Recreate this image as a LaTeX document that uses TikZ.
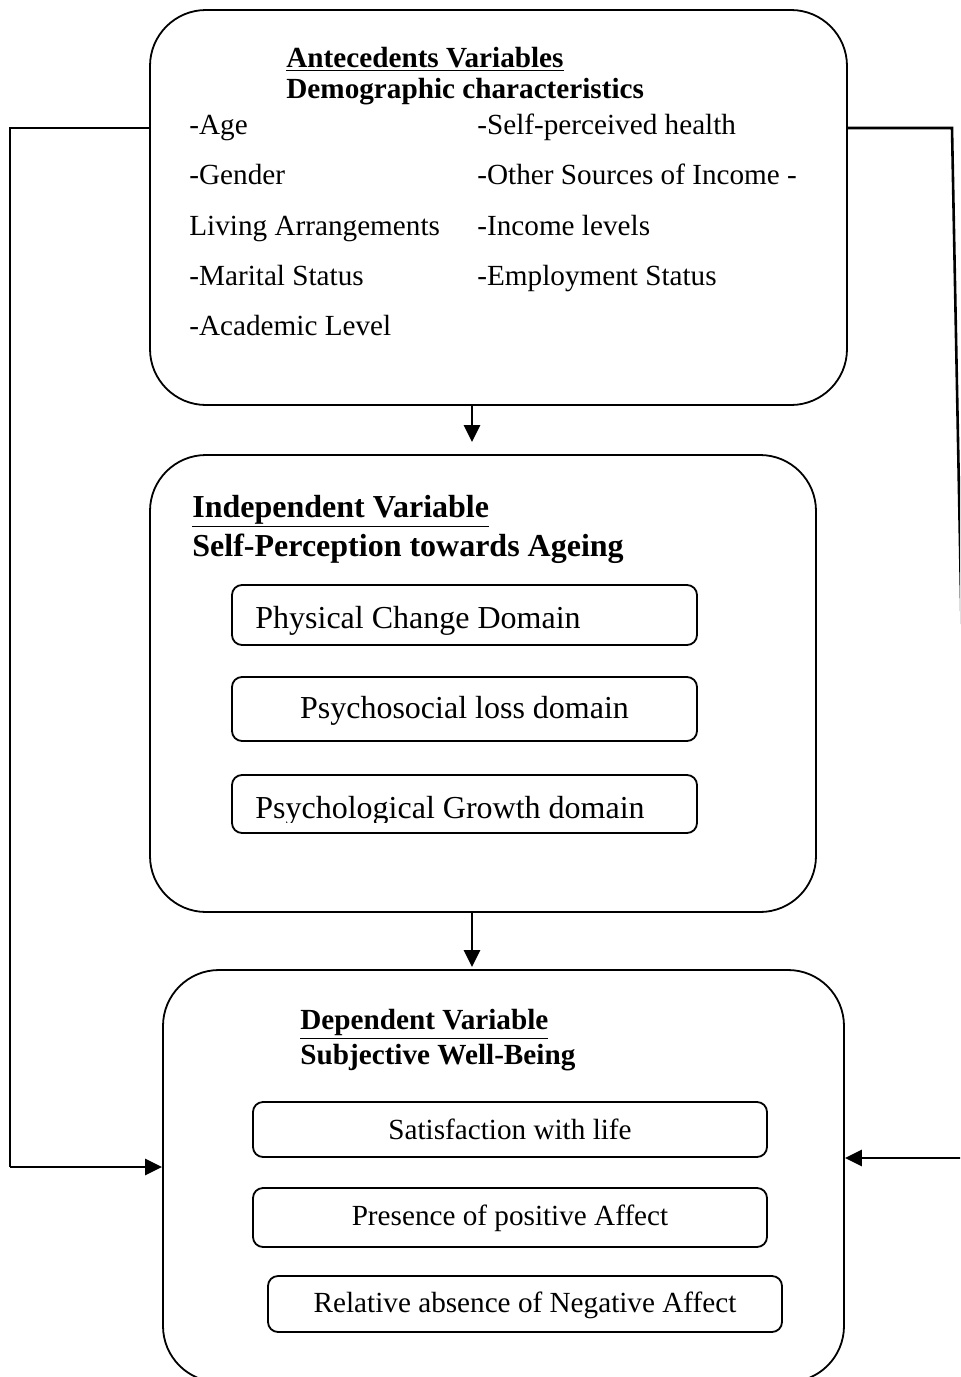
\documentclass[tikz,border=0pt]{standalone}
\usepackage{fontspec}
\setmainfont{Liberation Serif}
\usetikzlibrary{positioning}
\usetikzlibrary{arrows.meta}

\begin{document}
\begin{tikzpicture}[x=0.5pt, y=-0.5pt,
  bigbox/.style={draw, line width=0.9pt, rounded corners=28pt, inner sep=0pt},
  smallbox/.style={draw, line width=0.9pt, rounded corners=5pt, inner sep=0pt, font=\fontsize{14.6}{17}\selectfont},
  itemtxt/.style={anchor=base west, inner sep=0pt, font=\fontsize{14.6}{17}\selectfont},
  headtxt/.style={anchor=base west, inner sep=0pt, font=\fontsize{14.6}{17}\selectfont\bfseries},
  bighead/.style={anchor=base west, inner sep=0pt, font=\fontsize{16}{19}\selectfont\bfseries},
  conn/.style={line width=1.3pt},
  arr/.style={line width=1.3pt, -{Triangle[length=8.5pt, width=8pt]}}]

\useasboundingbox (0,0) rectangle (960,1377);
\clip (0,0) rectangle (960,1377);

 \begin{scope}
{
% antecedents
\node[bigbox, minimum width=348.5pt, minimum height=197.5pt] (ante) at (498.5,207.5) {};
\node[headtxt] (antehead) at (286,67) {\underline{Antecedents Variables}};
\node[headtxt] (antesub) at (286,98) {Demographic characteristics};

\node[itemtxt] (age) at (189,134) {-Age};
\node[itemtxt] (gender) at (189,184) {-Gender};
\node[itemtxt] (living) at (189,235) {Living Arrangements};
\node[itemtxt] (marital) at (189,285) {-Marital Status};
\node[itemtxt] (academic) at (189,335) {-Academic Level};

\node[itemtxt] (health) at (477,134) {-Self-perceived health};
\node[itemtxt] (sources) at (477,184) {-Other Sources of Income -};
\node[itemtxt] (income) at (477,235) {-Income levels};
\node[itemtxt] (employ) at (477,285) {-Employment Status};

% independent
\node[bigbox, minimum width=333pt, minimum height=228.5pt] (indep) at (483,683.5) {};
\node[bighead] (indephead) at (192,517) {\underline{Independent Variable}};
\node[bighead] (indepsub) at (192,556) {Self-Perception towards Ageing};

\node[smallbox, minimum width=232.5pt, minimum height=30pt] (physical) at (464.5,615) {};
\node[itemtxt, font=\fontsize{16}{19}\selectfont] (physicaltxt) at (255,628) {Physical Change Domain};
\node[smallbox, minimum width=232.5pt, minimum height=32pt, font=\fontsize{16}{19}\selectfont, text depth=2pt] (psyloss) at (464.5,709) {Psychosocial loss domain};
\node[smallbox, minimum width=232.5pt, minimum height=29pt] (growth) at (464.5,804) {};
\begin{scope}
\clip (232,775) rectangle (697,822);
\node[itemtxt, font=\fontsize{16}{19}\selectfont] (growthtxt) at (255,818) {Psychological Growth domain};
\end{scope}

% dependent
\node[bigbox, minimum width=340.5pt, minimum height=206pt] (dep) at (503.5,1176) {};
\node[headtxt] (dephead) at (300,1029) {\underline{Dependent Variable}};
\node[headtxt] (depsub) at (300,1064) {Subjective Well-Being};

\node[smallbox, minimum width=257pt, minimum height=27.5pt] (satis) at (510,1129.5) {Satisfaction with life};
\node[smallbox, minimum width=257pt, minimum height=29.5pt, text depth=2pt] (positive) at (510,1217.5) {Presence of positive Affect};
\node[smallbox, minimum width=257pt, minimum height=28pt, text depth=2pt] (negative) at (525,1304) {Relative absence of Negative Affect};

% connectors
\draw[arr, shorten >=6pt] (ante.south -| 472,0) -- (indep.north -| 472,0);
\draw[arr, shorten >=1pt] (indep.south -| 472,0) -- (dep.north -| 472,0);

\coordinate (leftout) at (10,128);
\coordinate (leftin) at (10,1167);
\draw[conn] (ante.west |- leftout) -- (leftout) -- (leftin);
\draw[arr] (leftin) -- (dep.west |- leftin);

\coordinate (rightout) at (952,128);
\coordinate (rightlow) at (964,752);
\coordinate (rightin) at (965,1158);
\draw[conn] (ante.east |- rightout) -- (rightout) -- (rightlow);
\draw[arr] (rightin) -- (dep.east |- rightin);
}
\end{scope}

\end{tikzpicture}
\end{document}
